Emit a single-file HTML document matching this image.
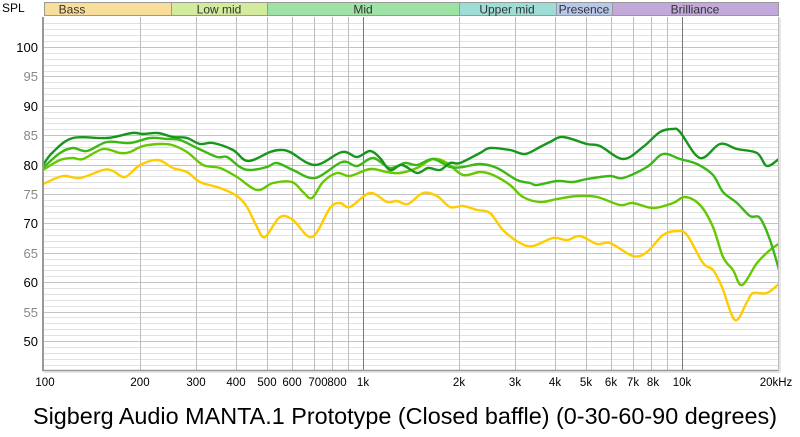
<!DOCTYPE html>
<html><head><meta charset="utf-8"><style>
html,body{margin:0;padding:0;background:#fff;}
svg{display:block;font-family:"Liberation Sans",sans-serif;}
</style></head><body>
<svg id="s" width="800" height="437" viewBox="0 0 800 437" xmlns="http://www.w3.org/2000/svg">
<rect width="800" height="437" fill="#fff"/>
<g stroke="#999" stroke-width="1">
<rect x="44.5" y="2.5" width="127" height="13" fill="#f9dd9a"/>
<rect x="171.5" y="2.5" width="96" height="13" fill="#d3eb9d"/>
<rect x="267.5" y="2.5" width="192" height="13" fill="#9fe2a6"/>
<rect x="459.5" y="2.5" width="97" height="13" fill="#9edcd6"/>
<rect x="556.5" y="2.5" width="56" height="13" fill="#b9c8ea"/>
<rect x="612.5" y="2.5" width="166" height="13" fill="#c2a9da"/>
</g>
<g font-size="12" fill="#333" text-anchor="middle">
<text x="72" y="13.5">Bass</text><text x="219" y="13.5">Low mid</text><text x="363" y="13.5">Mid</text>
<text x="507" y="13.5">Upper mid</text><text x="584" y="13.5">Presence</text><text x="695" y="13.5">Brilliance</text>
</g>
<text x="2" y="12" font-size="12" fill="#000">SPL</text>
<g id="grid"></g>
<g font-size="13" fill="#000" text-anchor="end">
<text x="38" y="52">100</text><text x="38" y="81" fill="#888">95</text><text x="38" y="111">90</text>
<text x="38" y="140" fill="#888">85</text><text x="38" y="170">80</text><text x="38" y="199" fill="#888">75</text>
<text x="38" y="228">70</text><text x="38" y="258" fill="#888">65</text><text x="38" y="287">60</text>
<text x="38" y="317" fill="#888">55</text><text x="38" y="346">50</text>
</g>
<g font-size="11.5" fill="#000" text-anchor="middle">
<text x="45" y="386">100</text><text x="140" y="386">200</text><text x="196" y="386">300</text><text x="236" y="386">400</text>
<text x="267" y="386">500</text><text x="292" y="386">600</text><text x="318" y="386">700</text><text x="337" y="386">800</text>
<text x="363" y="386">1k</text><text x="459" y="386">2k</text><text x="515" y="386">3k</text><text x="555" y="386">4k</text>
<text x="586" y="386">5k</text><text x="611" y="386">6k</text><text x="633" y="386">7k</text><text x="653" y="386">8k</text>
<text x="682" y="386">10k</text><text x="776" y="386">20kHz</text>
</g>
<defs><clipPath id="c"><rect x="44" y="17" width="734" height="353"/></clipPath></defs>
<g id="curves" clip-path="url(#c)" fill="none" stroke-width="2.4" stroke-linejoin="round" stroke-linecap="round"></g>
<line x1="43" y1="17" x2="43" y2="371" stroke="#999" stroke-width="2"/>
<line x1="42" y1="370.5" x2="779" y2="370.5" stroke="#999" stroke-width="1.5"/>
<line x1="778.5" y1="17" x2="778.5" y2="371" stroke="#bbb" stroke-width="1"/>
<line x1="44" y1="372" x2="780" y2="372" stroke="#ddd" stroke-width="1.5"/>
<line x1="780" y1="18" x2="780" y2="372" stroke="#ddd" stroke-width="1.5"/>
<text x="405" y="424" font-size="23" text-anchor="middle" fill="#000" textLength="744" lengthAdjust="spacingAndGlyphs">Sigberg Audio MANTA.1 Prototype (Closed baffle) (0-30-60-90 degrees)</text>
</svg>
<script>
(function(){
var ns="http://www.w3.org/2000/svg",g=document.getElementById("grid");
function ln(x1,y1,x2,y2,c){var l=document.createElementNS(ns,"line");l.setAttribute("x1",x1);l.setAttribute("y1",y1);l.setAttribute("x2",x2);l.setAttribute("y2",y2);l.setAttribute("stroke",c);l.setAttribute("stroke-width",1);g.appendChild(l);}
for(var d=46;d<=104;d++){var y=Math.round(47+(100-d)*5.88)+0.5;ln(44,y,778,y,d%5==0?"#c4c4c4":"#e2e2e2");}
[200,300,400,500,600,700,800,900,1000,2000,3000,4000,5000,6000,7000,8000,9000,10000].forEach(function(f){var x=Math.round(44+319*Math.log10(f/100))+0.5;ln(x,17,x,370,(f==1000||f==10000)?"#777":"#bdbdbd");});
var data=[
["#ffcc00","43,184 63,176 80,178 103,170 113,171 125,177 140,165 158,160 173,168 187,172 200,182 220,188 237,196 247,207 257,227 265,237 280,217 293,220 312,237 330,208 340,203 350,207 370,193 387,202 397,201 408,204 423,193 437,196 450,207 463,206 477,210 490,213 503,230 520,243 533,246 553,238 567,240 580,236 597,244 610,243 633,256 647,252 663,235 677,231 687,235 703,263 713,270 722,287 735,320 747,302 753,293 767,293 780,283"],
["#66c800","43,170 60,160 73,158 83,159 103,149 120,153 130,152 143,146 160,144 172,145 187,152 203,165 220,168 237,177 257,190 273,183 292,182 303,192 312,198 323,182 337,173 350,176 370,169 387,172 400,173 417,168 433,159 447,163 463,175 480,172 493,175 510,185 523,197 540,202 557,199 577,196 597,197 620,205 633,203 653,208 673,203 685,197 700,205 713,227 723,257 733,270 742,285 757,263 770,250 780,243"],
["#3cb814","43,168 60,153 73,148 87,151 107,142 130,143 150,138 167,139 180,140 197,148 217,157 227,157 240,167 250,170 267,167 277,163 293,170 315,178 342,162 357,166 373,158 390,168 405,163 417,165 433,159 450,167 463,167 480,164 497,168 517,180 530,183 537,185 557,181 573,182 587,179 610,176 623,178 647,167 663,154 680,159 697,164 713,175 723,192 737,203 750,216 760,218 770,240 780,273"],
["#16961a","43,165 53,152 73,138 107,138 132,133 143,134 158,133 173,137 187,138 200,144 213,143 233,150 248,161 270,152 280,150 290,152 315,165 342,152 357,157 370,151 380,158 390,170 402,165 417,173 428,168 440,170 450,163 460,163 480,153 490,148 510,150 525,154 540,147 550,142 563,137 587,144 600,146 623,159 643,147 660,132 673,129 680,132 700,158 720,144 737,149 757,153 767,166 780,158"]];
var cg=document.getElementById("curves");
data.forEach(function(d){
var p=d[1].split(" ").map(function(s){return s.split(",").map(Number);});
var s="M"+p[0][0]+","+p[0][1];
for(var i=0;i<p.length-1;i++){
var p0=p[Math.max(0,i-1)],p1=p[i],p2=p[i+1],p3=p[Math.min(p.length-1,i+2)];
var c1x=p1[0]+(p2[0]-p0[0])/6,c1y=p1[1]+(p2[1]-p0[1])/6,c2x=p2[0]-(p3[0]-p1[0])/6,c2y=p2[1]-(p3[1]-p1[1])/6;
s+=" C"+c1x.toFixed(1)+","+c1y.toFixed(1)+" "+c2x.toFixed(1)+","+c2y.toFixed(1)+" "+p2[0]+","+p2[1];}
var e=document.createElementNS(ns,"path");e.setAttribute("d",s);e.setAttribute("stroke",d[0]);cg.appendChild(e);});
})();
</script>
</body></html>
